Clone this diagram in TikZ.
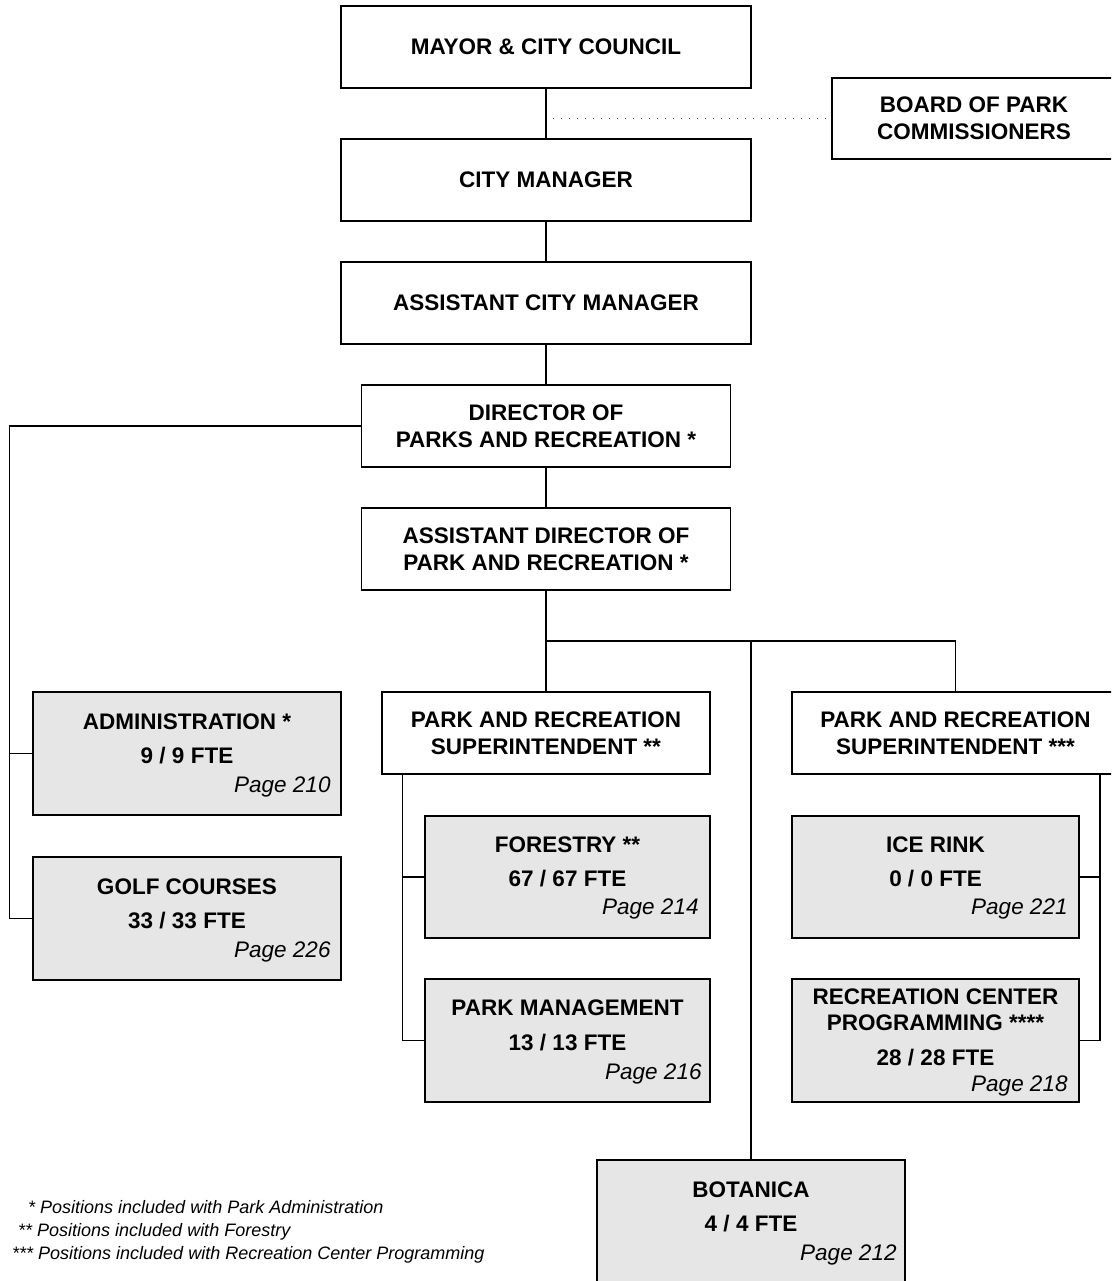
\documentclass[tikz,border=0pt]{standalone}
\usepackage{fontspec}
\setmainfont{Liberation Sans}
\usetikzlibrary{calc}
\definecolor{boxgray}{RGB}{230,230,230}
\begin{document}
\begin{tikzpicture}[x=1pt,y=-1pt,
  wbox/.style={draw, line width=1.5pt, fill=white, align=center, inner sep=0pt, font=\fontsize{22.5}{27}\selectfont\bfseries},
  gbox/.style={draw, line width=1.5pt, fill=boxgray, inner sep=0pt},
  ttl/.style={anchor=base, inner sep=0pt, font=\fontsize{22.5}{27}\selectfont\bfseries},
  pg/.style={anchor=base east, inner sep=0pt, font=\fontsize{22.5}{27}\selectfont\itshape},
  conn/.style={line width=1.5pt},
  dots/.style={line width=1.2pt, dash pattern=on 1.2pt off 6.8pt, color=black!70},
  fn/.style={anchor=base west, inner sep=0pt, font=\fontsize{18}{23}\selectfont\itshape}]
\useasboundingbox (0,0) rectangle (1111,1281);
\clip (0,0) rectangle (1111,1281);

% white boxes
\node[wbox, minimum width=410pt, minimum height=82pt] (mayor) at (546,47) {MAYOR \& CITY COUNCIL};
\node[wbox, minimum width=284pt, minimum height=81pt] (board) at (974,118.5) {BOARD OF PARK\\COMMISSIONERS};
\node[wbox, minimum width=410pt, minimum height=82pt] (cm) at (546,180) {CITY MANAGER};
\node[wbox, minimum width=410pt, minimum height=82pt] (acm) at (546,303) {ASSISTANT CITY MANAGER};
\node[wbox, minimum width=369pt, minimum height=82pt] (dir) at (546,426) {DIRECTOR OF\\PARKS AND RECREATION *};
\node[wbox, minimum width=369pt, minimum height=82pt] (adir) at (546,549) {ASSISTANT DIRECTOR OF\\PARK AND RECREATION *};
\node[wbox, minimum width=328pt, minimum height=82pt] (sup2) at (546,733) {PARK AND RECREATION\\SUPERINTENDENT **};
\node[wbox, minimum width=327pt, minimum height=82pt] (sup3) at (955.5,733) {PARK AND RECREATION\\SUPERINTENDENT ***};

% gray boxes
\node[gbox, minimum width=308pt, minimum height=123pt] (admin) at (187,753.5) {};
\node[gbox, minimum width=308pt, minimum height=123pt] (golf) at (187,918.5) {};
\node[gbox, minimum width=285pt, minimum height=122pt] (forestry) at (567.5,877) {};
\node[gbox, minimum width=285pt, minimum height=123pt] (parkm) at (567.5,1040.5) {};
\node[gbox, minimum width=287pt, minimum height=122pt] (ice) at (935.5,877) {};
\node[gbox, minimum width=287pt, minimum height=123pt] (rec) at (935.5,1040.5) {};
\node[gbox, minimum width=308pt, minimum height=140pt] (bot) at (751,1230) {};

% gray box texts
\node[ttl] (adminT) at ([yshift=-38pt]admin.north) {ADMINISTRATION *};
\node[ttl] (adminF) at ([yshift=-72pt]admin.north) {9 / 9 FTE};
\node[pg] (adminP) at ([xshift=-11pt,yshift=-101pt]admin.north east) {Page 210};

\node[ttl] (golfT) at ([yshift=-38pt]golf.north) {GOLF COURSES};
\node[ttl] (golfF) at ([yshift=-72pt]golf.north) {33 / 33 FTE};
\node[pg] (golfP) at ([xshift=-11pt,yshift=-101pt]golf.north east) {Page 226};

\node[ttl] (forT) at ([yshift=-37pt]forestry.north) {FORESTRY **};
\node[ttl] (forF) at ([yshift=-71pt]forestry.north) {67 / 67 FTE};
\node[pg] (forP) at ([xshift=-12pt,yshift=-99pt]forestry.north east) {Page 214};

\node[ttl] (pmT) at ([yshift=-37pt]parkm.north) {PARK MANAGEMENT};
\node[ttl] (pmF) at ([yshift=-72pt]parkm.north) {13 / 13 FTE};
\node[pg] (pmP) at ([xshift=-9pt,yshift=-101pt]parkm.north east) {Page 216};

\node[ttl] (iceT) at ([yshift=-37pt]ice.north) {ICE RINK};
\node[ttl] (iceF) at ([yshift=-71pt]ice.north) {0 / 0 FTE};
\node[pg] (iceP) at ([xshift=-12pt,yshift=-99pt]ice.north east) {Page 221};

\node[ttl] (recT1) at ([yshift=-26pt]rec.north) {RECREATION CENTER};
\node[ttl] (recT2) at ([yshift=-52pt]rec.north) {PROGRAMMING ****};
\node[ttl] (recF) at ([yshift=-87pt]rec.north) {28 / 28 FTE};
\node[pg] (recP) at ([xshift=-12pt,yshift=-113pt]rec.north east) {Page 218};

\node[ttl] (botT) at ([yshift=-38pt]bot.north) {BOTANICA};
\node[ttl] (botF) at ([yshift=-72pt]bot.north) {4 / 4 FTE};
\node[pg] (botP) at ([xshift=-9pt,yshift=-101pt]bot.north east) {Page 212};

% connectors
\draw[conn] (mayor.south) -- (cm.north);
\draw[conn] (cm.south) -- (acm.north);
\draw[conn] (acm.south) -- (dir.north);
\draw[conn] (dir.south) -- (adir.north);
\draw[dots] ($(mayor.south |- board.west)+(7,0)$) -- ($(board.west)+(-4,0)$);

\draw[conn] (dir.west) -| ($(golf.west)+(-23,0)$) -- (golf.west);
\draw[conn] (admin.west) -- ++(-23,0);

\coordinate (bus) at (546,641);
\draw[conn] (adir.south) -- (sup2.north);
\draw[conn] (bus) -| (sup3.north);
\draw[conn] (bus -| bot.north) -- (bot.north);

\draw[conn] ($(sup2.south west)+(21,0)$) |- (parkm.west);
\draw[conn] (forestry.west) -- ++(-22,0);

\draw[conn] ($(ice.east)+(20,0)$) coordinate (rv) -- (ice.east);
\draw[conn] (rv |- sup3.south) |- (rec.east);

% footnotes
\node[fn] (fn1) at (28,1213) {* Positions included with Park Administration};
\node[fn] (fn2) at (18,1236) {** Positions included with Forestry};
\node[fn] (fn3) at (12,1259) {*** Positions included with Recreation Center Programming};
\end{tikzpicture}
\end{document}
